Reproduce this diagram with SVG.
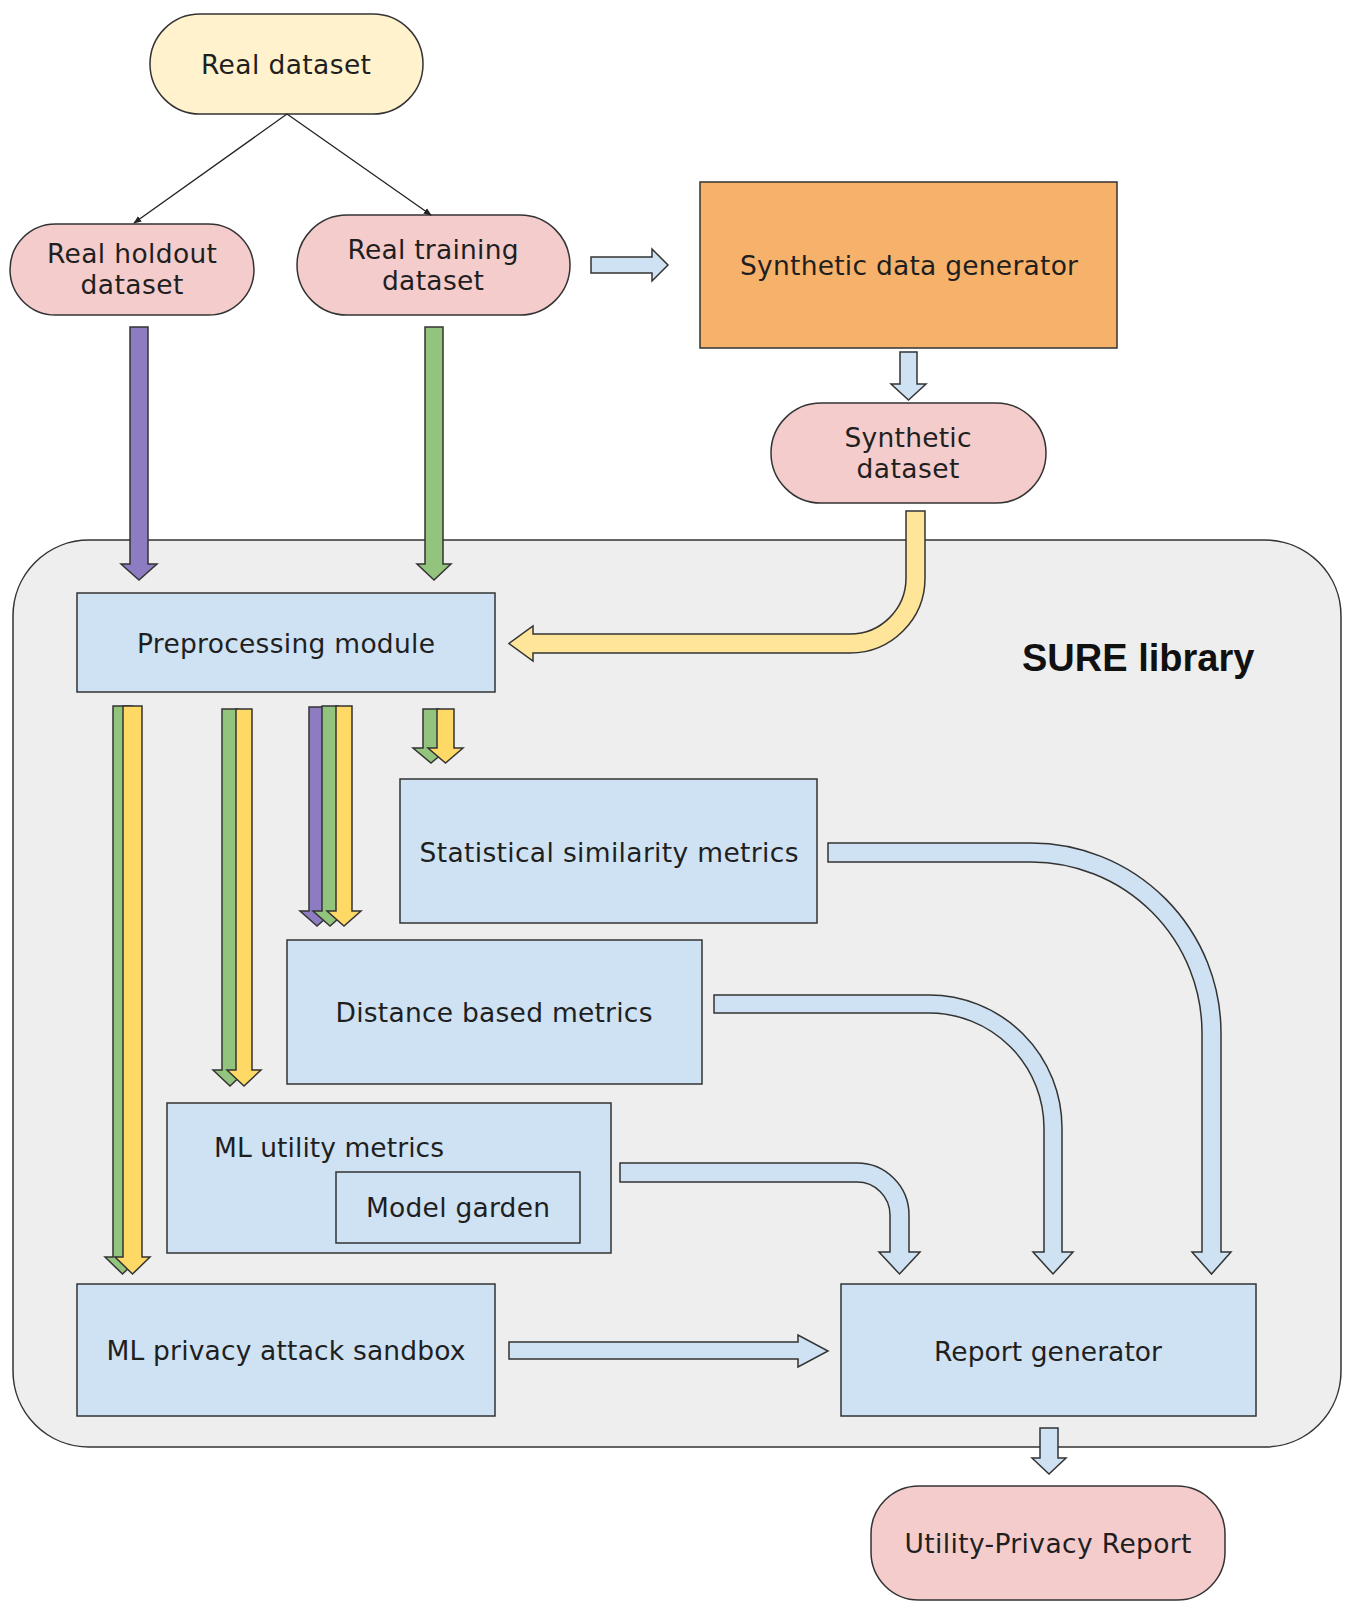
<svg xmlns="http://www.w3.org/2000/svg" width="1359" height="1614" viewBox="0 0 1359 1614">
<defs>
<style>
.lbl{font-family:"DejaVu Sans","Noto Sans",sans-serif;font-size:26.5px;fill:#1f1f1f;text-anchor:middle}
.pill{stroke:#333;stroke-width:1.5}
.box{fill:#cfe2f3;stroke:#333;stroke-width:1.5}
.ba{stroke:#333;stroke-width:1.5;stroke-linejoin:miter}
.blue{fill:#cfe2f3}
.pur{fill:#8e7cc3}
.grn{fill:#93c47d}
.yel{fill:#ffd966}
.lyel{fill:#ffe599}
.thin{stroke:#222;stroke-width:1.3;fill:none}
</style>
<marker id="ah" viewBox="0 0 10 10" refX="9" refY="5" markerWidth="8" markerHeight="8" markerUnits="userSpaceOnUse" orient="auto">
<path d="M0,1 L10,5 L0,9 Z" fill="#222"/>
</marker>
</defs>
<rect width="1359" height="1614" fill="#fff"/>

<g id="sure-library">
<rect x="13" y="540" width="1328" height="907" rx="76" ry="76" fill="#eeeeee" stroke="#333" stroke-width="1.5"/>
<text x="1022" y="671" font-family="'Liberation Sans',Arial,sans-serif" font-size="38" font-weight="bold" fill="#111">SURE library</text>
</g>

<g id="real-dataset">
<rect class="pill" x="150" y="14" width="273" height="100" rx="50" fill="#fff2cc"/>
<text class="lbl" x="286" y="74" textLength="170">Real dataset</text>
</g>
<g id="real-holdout">
<rect class="pill" x="10" y="224" width="244" height="91" rx="45.5" fill="#f4cccc"/>
<text class="lbl" x="132" y="263" textLength="170">Real holdout</text>
<text class="lbl" x="132" y="294" textLength="103">dataset</text>
</g>
<g id="real-training">
<rect class="pill" x="297" y="215" width="273" height="100" rx="50" fill="#f4cccc"/>
<text class="lbl" x="433" y="259" textLength="171">Real training</text>
<text class="lbl" x="433" y="290" textLength="102">dataset</text>
</g>
<g id="synthetic-generator">
<rect x="700" y="182" width="417" height="166" fill="#f6b26b" stroke="#333" stroke-width="1.5"/>
<text class="lbl" x="909" y="275" textLength="338">Synthetic data generator</text>
</g>
<g id="synthetic-dataset">
<rect class="pill" x="771" y="403" width="275" height="100" rx="50" fill="#f4cccc"/>
<text class="lbl" x="908" y="447" textLength="127">Synthetic</text>
<text class="lbl" x="908" y="478" textLength="103">dataset</text>
</g>
<g id="preprocessing">
<rect class="box" x="77" y="593" width="418" height="99"/>
<text class="lbl" x="286" y="653" textLength="298">Preprocessing module</text>
</g>
<g id="statistical">
<rect class="box" x="400" y="779" width="417" height="144"/>
<text class="lbl" x="609" y="862" textLength="379">Statistical similarity metrics</text>
</g>
<g id="distance">
<rect class="box" x="287" y="940" width="415" height="144"/>
<text class="lbl" x="494" y="1022" textLength="317">Distance based metrics</text>
</g>
<g id="ml-utility">
<rect class="box" x="167" y="1103" width="444" height="150"/>
<text class="lbl" x="329" y="1157" textLength="230">ML utility metrics</text>
<g id="model-garden">
<rect class="box" x="336" y="1172" width="244" height="71"/>
<text class="lbl" x="458" y="1217" textLength="184">Model garden</text>
</g>
</g>
<g id="ml-privacy">
<rect class="box" x="77" y="1284" width="418" height="132"/>
<text class="lbl" x="286" y="1360" textLength="359">ML privacy attack sandbox</text>
</g>
<g id="report-generator">
<rect class="box" x="841" y="1284" width="415" height="132"/>
<text class="lbl" x="1048" y="1361" textLength="228">Report generator</text>
</g>
<g id="utility-privacy-report">
<rect class="pill" x="871" y="1486" width="354" height="114" rx="48" fill="#f4cccc"/>
<text class="lbl" x="1048" y="1553" textLength="287">Utility-Privacy Report</text>
</g>

<g id="connectors">
<line class="thin" x1="287" y1="114" x2="134" y2="223" marker-end="url(#ah)"/>
<line class="thin" x1="287" y1="114" x2="431" y2="215" marker-end="url(#ah)"/>
<path class="ba blue" d="M591,257 H652 V249 L668,265 L652,281 V273 H591 Z"/>
<path class="ba blue" d="M900,352 H917 V384 H926 L908.5,400 L891,384 H900 Z"/>
<path class="ba pur" d="M130,327 H148 V564 H157 L139,580 L121,564 H130 Z"/>
<path class="ba grn" d="M425,327 H443 V564 H451 L434,580 L417,564 H425 Z"/>
<path class="ba lyel" d="M906,511 H925 V578 A75,75 0 0 1 850,653 H533 V661 L509,643.5 L533,626 V634 H850 A56,56 0 0 0 906,578 Z"/>

<path class="ba grn" d="M113,706 H132 V1257 H140 L122.5,1274 L105,1257 H113 Z"/>
<path class="ba yel" d="M123,706 H142 V1257 H150 L132.5,1274 L115,1257 H123 Z"/>

<path class="ba grn" d="M222,709 H238 V1070 H247 L230,1086 L213,1070 H222 Z"/>
<path class="ba yel" d="M236,709 H252 V1070 H261 L244,1086 L227,1070 H236 Z"/>

<path class="ba pur" d="M309,707 H325 V911 H334 L317,926 L300,911 H309 Z"/>
<path class="ba grn" d="M322,706 H338 V911 H347 L330,926 L313,911 H322 Z"/>
<path class="ba yel" d="M336,706 H352 V911 H361 L344,926 L327,911 H336 Z"/>

<path class="ba grn" d="M423,709 H439 V748 H449 L431,763 L413,748 H423 Z"/>
<path class="ba yel" d="M437,709 H454 V748 H463 L445.5,763 L428,748 H437 Z"/>

<path class="ba blue" d="M828,843 H1031 A190,190 0 0 1 1221,1033 V1252 H1231 L1211.5,1274 L1192,1252 H1202 V1033 A171,171 0 0 0 1031,862 H828 Z"/>
<path class="ba blue" d="M714,995 H929 A133,133 0 0 1 1062,1128 V1252 H1073 L1053,1274 L1033,1252 H1044 V1128 A115,115 0 0 0 929,1013 H714 Z"/>
<path class="ba blue" d="M620,1163 H857 A52,52 0 0 1 909,1215 V1252 H920 L899.5,1274 L879,1252 H890 V1215 A33,33 0 0 0 857,1182 H620 Z"/>
<path class="ba blue" d="M509,1342 H798 V1335 L828,1351 L798,1367 V1359 H509 Z"/>
<path class="ba blue" d="M1040,1428 H1058 V1458 H1066 L1049,1474 L1032,1458 H1040 Z"/>
</g>
</svg>
